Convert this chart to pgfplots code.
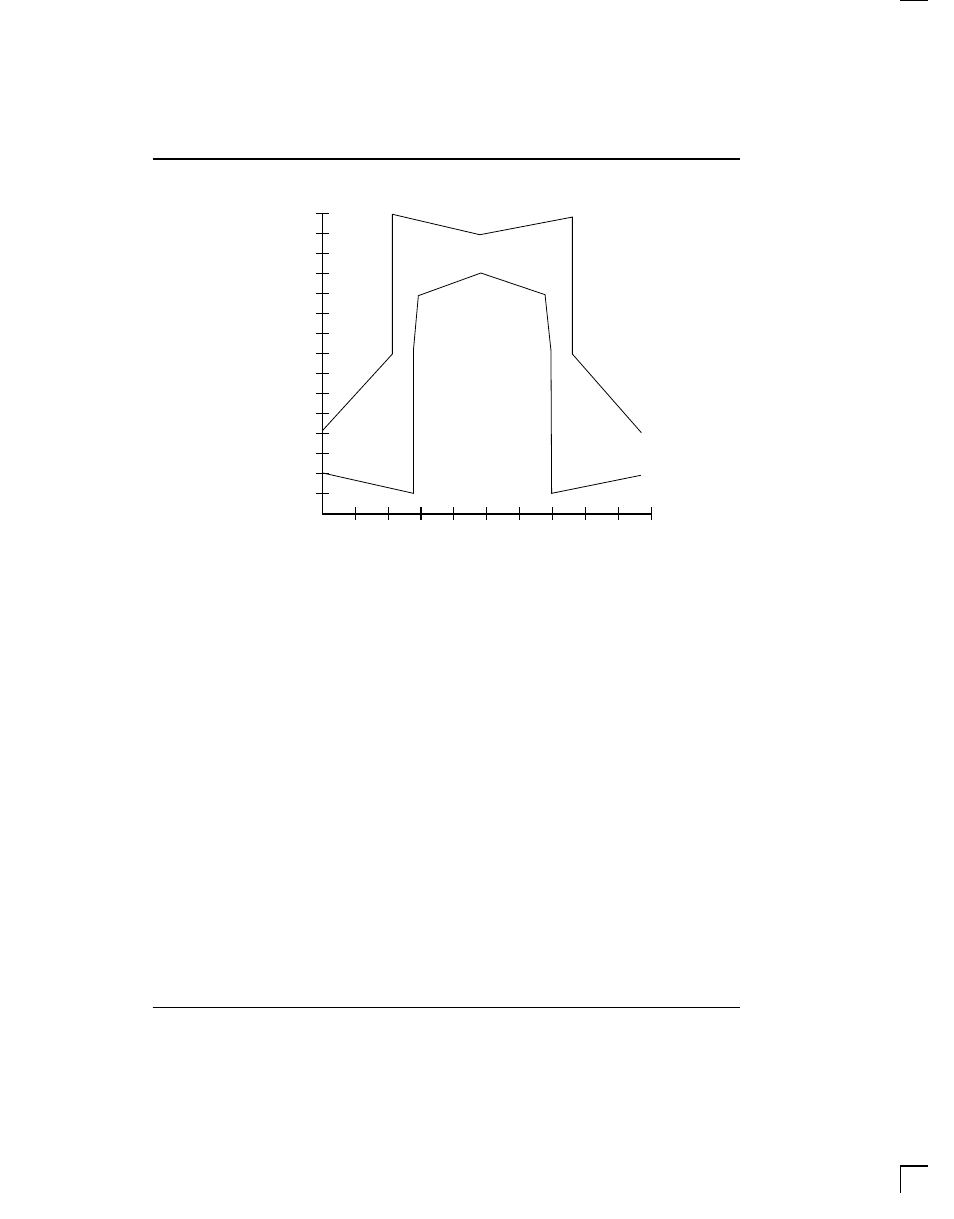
\documentclass[border=0pt]{standalone}
\usepackage{pgfplots}
\pgfplotsset{compat=1.18}
\begin{document}
\begin{tikzpicture}[x=1bp,y=1bp]
\useasboundingbox (0,0) rectangle (954,1219);
% page decorations
\draw[line width=1.1bp] (152.7,1060) -- (740,1060);
\draw[line width=1.1bp] (152.7,211.7) -- (740,211.7);
\draw[line width=1.5bp] (900,1218.3) -- (927.7,1218.3);
\draw[line width=1.2bp] (900.3,26.3) -- (900.3,53) -- (927.7,53);
\begin{axis}[
  at={(322.3bp,705bp)}, anchor=origin,
  scale only axis, width=329bp, height=300.7bp,
  xmin=0, xmax=10, ymin=0, ymax=15,
  axis lines=left, axis line style={-, line width=1.1bp},
  xtick={1,...,10}, ytick={1,...,15},
  xticklabels={}, yticklabels={},
  tick align=center, major tick length=13bp,
  every tick/.style={black, line width=1.1bp},
  clip=false,
]
\addplot[black, line width=0.8bp] coordinates {
  (0,4.15) (2.13,7.98) (2.13,14.95) (4.79,13.93) (7.6,14.81) (7.6,7.98) (9.70,4.05)
};
\addplot[black, line width=0.8bp] coordinates {
  (0,2.05) (2.77,1.03) (2.77,8.18) (2.92,10.89) (4.82,12.02) (6.77,10.94) (6.95,8.15) (6.97,1.03) (9.68,1.93)
};
\end{axis}
\end{tikzpicture}
\end{document}
